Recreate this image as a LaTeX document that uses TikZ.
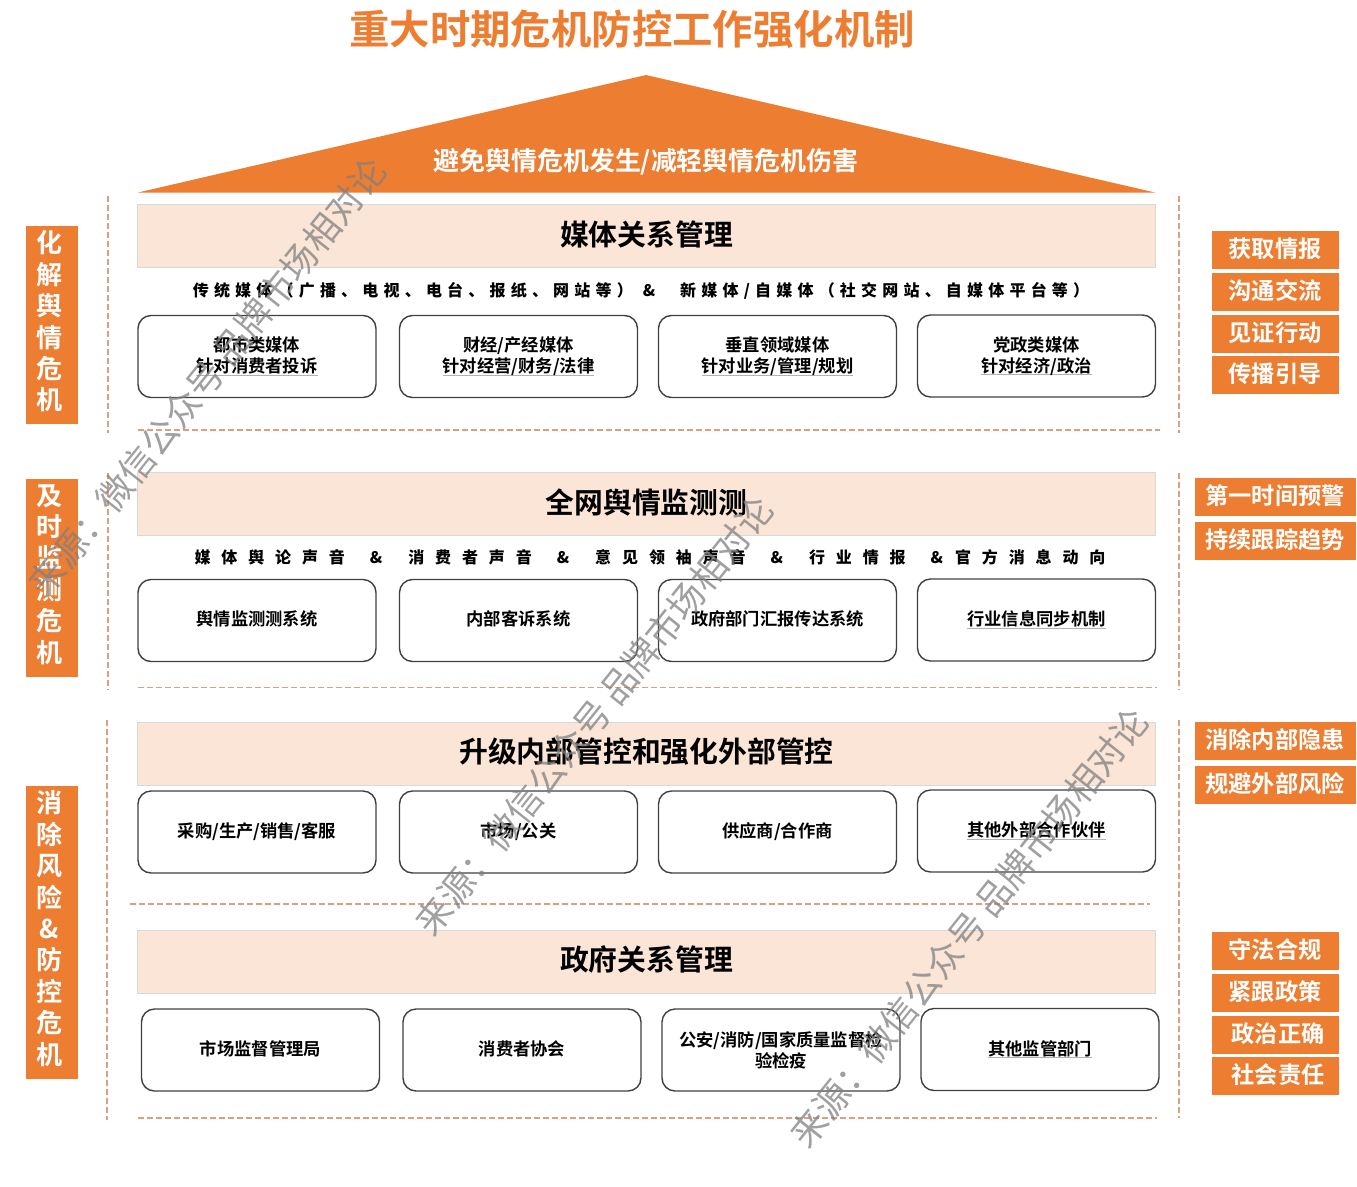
\documentclass[tikz,border=0pt]{standalone}
\usepackage{fontspec}
\setmainfont{Noto Sans CJK SC}[BoldFont={Noto Sans CJK SC Bold}]
\newfontfamily\widefont[LetterSpace=32.5]{Noto Sans CJK SC}
\newfontfamily\widerfont[LetterSpace=68]{Noto Sans CJK SC}
\definecolor{roof orange}{HTML}{ED7D31}
\definecolor{band peach}{HTML}{FBE5D6}
\definecolor{dash tan}{HTML}{DDA07E}
\newcommand{\marked}[1]{\setbox0\hbox{#1}\rlap{\textcolor{black!30}{\rule[-3pt]{\wd0}{1pt}}}\box0}
\newcommand{\tagtext}[1]{\kern-5pt\raisebox{1pt}{\begin{tabular}{@{}c@{}}#1\end{tabular}}}

\begin{document}
\begin{tikzpicture}[x=1pt, y=-1pt]
    \tikzstyle{band} = [fill=band peach, draw=black!15, line width=0.8pt, minimum width=1018pt, minimum height=63pt, text depth=6.5pt, font=\fontsize{28.8}{30}\selectfont\bfseries]
    \tikzstyle{card} = [draw=black!75, line width=1.4pt, fill=white, rounded corners=13pt, minimum width=238pt, minimum height=82pt, align=center, font=\fontsize{17.3}{21}\selectfont\bfseries]
    \tikzstyle{plain card} = [card, text depth=4.5pt]
    \tikzstyle{side tag} = [fill=roof orange, text=white, minimum width=52pt, inner sep=0pt, font=\fontsize{26}{31}\selectfont\bfseries]
    \tikzstyle{goal tag} = [fill=roof orange, text=white, minimum height=38pt, inner sep=0pt, text depth=4.5pt, font=\fontsize{23.2}{26}\selectfont\bfseries]
    \tikzstyle{sep line} = [dash tan, line width=1.4pt, dash pattern=on 6pt off 3pt]
    \tikzstyle{media line} = [font=\fontsize{16}{18}\selectfont\bfseries]
    \tikzstyle{stamp} = [text=black!50, opacity=0.75, rotate=51.4, font=\fontsize{36}{38}\selectfont]

    \useasboundingbox (0, 0) rectangle (1357, 1186);

    % title and roof
    \node[text=roof orange, font=\fontsize{40.4}{44}\selectfont\bfseries] (title) at (632, 29.5) {重大时期危机防控工作强化机制};
    \draw[fill=roof orange, draw=none] (138, 192.5) -- (646, 75) -- (1155, 192.5) -- cycle;
    \node[text=white, font=\fontsize{25.9}{28}\selectfont\bfseries] (roof) at (646, 162) {避免舆情危机发生/减轻舆情危机伤害};

    % media
    \node[band] (media) at (646.5, 236) {媒体关系管理};
    \node[media line] (media list) at (641, 291) {\widefont 传统媒体（广播、电视、电台、报纸、网站等）\hspace{10pt}\&\hspace{25pt}新媒体/自媒体（社交网站、自媒体平台等）};
    \node[card] (media a) at (257, 356.5) {都市类媒体\\\marked{针对消费者投诉}};
    \node[card] (media b) at (518.5, 356.5) {财经/产经媒体\\\marked{针对经营/财务/法律}};
    \node[card] (media c) at (777.5, 356.5) {垂直领域媒体\\\marked{针对业务/管理/规划}};
    \node[card] (media d) at (1036.5, 356) {党政类媒体\\\marked{针对经济/政治}};

    % monitoring
    \node[band] (watch) at (646.5, 504) {全网舆情监测测};
    \node[media line] (watch list) at (650, 557) {\widerfont 媒体舆论声音\hspace{25pt}\&\hspace{26pt}消费者声音\hspace{25pt}\&\hspace{26pt}意见领袖声音\hspace{25pt}\&\hspace{26pt}行业情报\hspace{25pt}\&\hspace{12pt}官方消息动向};
    \node[plain card] (watch a) at (257, 620.5) {舆情监测测系统};
    \node[plain card] (watch b) at (518.5, 620.5) {内部客诉系统};
    \node[plain card] (watch c) at (777.5, 620.5) {政府部门汇报传达系统};
    \node[card] (watch d) at (1036.5, 620) {\marked{行业信息同步机制}};

    % control
    \node[band] (control) at (646.5, 753.5) {升级内部管控和强化外部管控};
    \node[plain card] (control a) at (257, 832) {采购/生产/销售/客服};
    \node[plain card] (control b) at (518.5, 832) {市场/公关};
    \node[plain card] (control c) at (777.5, 832) {供应商/合作商};
    \node[card] (control d) at (1036.5, 831) {\marked{其他外部合作伙伴}};

    % government
    \node[band] (gov) at (646.5, 961.5) {政府关系管理};
    \node[plain card] (gov a) at (260.5, 1050) {市场监督管理局};
    \node[plain card] (gov b) at (522, 1050) {消费者协会};
    \node[card] (gov c) at (781, 1050) {公安/消防/国家质量监督检\\验检疫};
    \node[card] (gov d) at (1040, 1049.5) {\marked{其他监管部门}};

    % dashed frame
    \draw[sep line] (108, 196) -- (108, 433);
    \draw[sep line] (108, 473) -- (108, 690);
    \draw[sep line] (107, 720) -- (107, 1120);
    \draw[sep line] (1179, 196) -- (1179, 433);
    \draw[sep line] (1179, 473) -- (1179, 690);
    \draw[sep line] (1179, 720) -- (1179, 1118);
    \draw[sep line] (138, 430) -- (1160, 430);
    \draw[sep line] (138, 687.5) -- (1157, 687.5);
    \draw[sep line] (130, 904) -- (1150, 904);
    \draw[sep line] (138, 1118) -- (1157, 1118);

    % left tags
    \node[side tag, minimum height=198pt] (left a) at (52, 325) {\tagtext{化\\解\\舆\\情\\危\\机}};
    \node[side tag, minimum height=198pt] (left b) at (52, 577.5) {\tagtext{及\\时\\监\\测\\危\\机}};
    \node[side tag, minimum height=293pt] (left c) at (52, 932) {\tagtext{消\\除\\风\\险\\\&\\防\\控\\危\\机}};

    % right tags
    \node[goal tag, minimum width=127pt] (right a) at (1275, 250) {获取情报};
    \node[goal tag, minimum width=127pt] (right b) at (1275, 291.5) {沟通交流};
    \node[goal tag, minimum width=127pt] (right c) at (1275, 333.5) {见证行动};
    \node[goal tag, minimum width=127pt] (right d) at (1275, 375) {传播引导};
    \node[goal tag, minimum width=161pt] (right e) at (1275, 497) {第一时间预警};
    \node[goal tag, minimum width=161pt] (right f) at (1275, 541) {持续跟踪趋势};
    \node[goal tag, minimum width=161pt] (right g) at (1275, 741) {消除内部隐患};
    \node[goal tag, minimum width=161pt] (right h) at (1275, 785) {规避外部风险};
    \node[goal tag, minimum width=127pt] (right i) at (1275, 951) {守法合规};
    \node[goal tag, minimum width=127pt] (right j) at (1275, 993) {紧跟政策};
    \node[goal tag, minimum width=127pt, text width=127pt, align=center] (right k) at (1275, 1035) {\hspace{6pt}政治正确};
    \node[goal tag, minimum width=127pt, text width=127pt, align=center] (right l) at (1275, 1076) {\hspace{6pt}社会责任};

    % stamps
    \node[stamp] (stamp a) at (207, 377) {来源：微信公众号 品牌市场相对论};
    \node[stamp] (stamp b) at (594, 716) {来源：微信公众号 品牌市场相对论};
    \node[stamp] (stamp c) at (969, 928) {来源：微信公众号 品牌市场相对论};
\end{tikzpicture}
\end{document}
